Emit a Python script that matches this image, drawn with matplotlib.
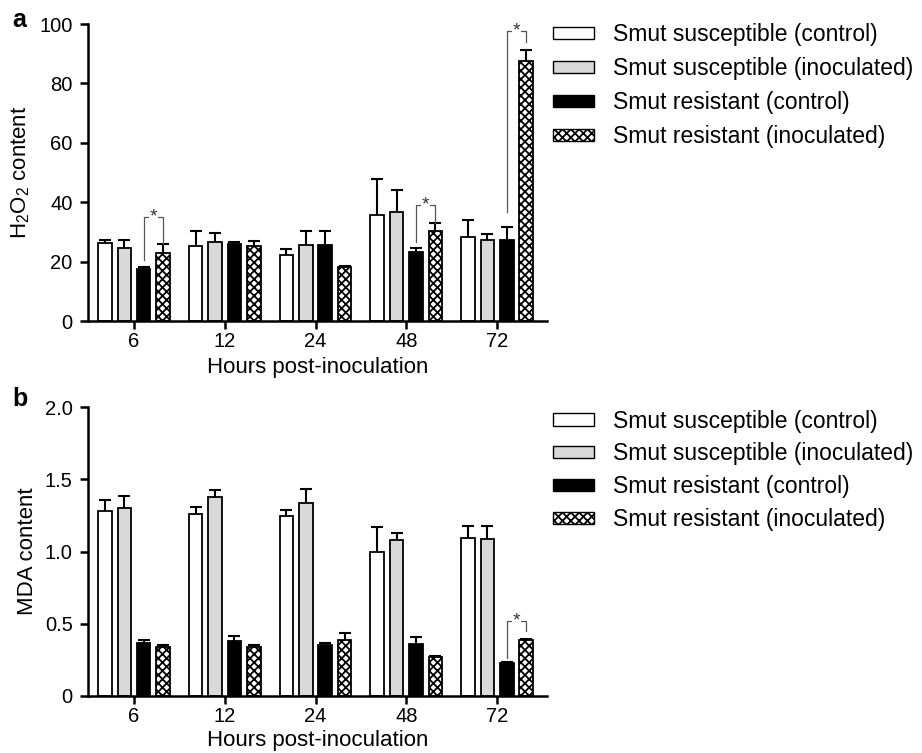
import numpy as np
import matplotlib
matplotlib.use("Agg")
import matplotlib.pyplot as plt
from matplotlib.patches import Patch

plt.rcParams['font.family'] = ['Liberation Sans', 'DejaVu Sans']
plt.rcParams['mathtext.fontset'] = 'custom'
plt.rcParams['mathtext.rm'] = 'Liberation Sans'
plt.rcParams['mathtext.it'] = 'Liberation Sans'
plt.rcParams['mathtext.default'] = 'regular'
plt.rcParams['hatch.linewidth'] = 1.3

hours = ['6', '12', '24', '48', '72']
series = ['Smut susceptible (control)', 'Smut susceptible (inoculated)',
          'Smut resistant (control)', 'Smut resistant (inoculated)']

# Panel a: H2O2 content (mean, upper error)
h2o2_sus_ctrl = [26.4, 25.3, 22.2, 35.7, 28.2]
h2o2_sus_inoc = [24.7, 26.5, 25.5, 36.7, 27.3]
h2o2_res_ctrl = [17.6, 26.0, 25.5, 23.2, 27.3]
h2o2_res_inoc = [23.0, 25.3, 18.2, 30.3, 87.6]
h2o2_err_sus_ctrl = [0.9, 5.0, 1.9, 12.1, 5.8]
h2o2_err_sus_inoc = [2.6, 3.2, 4.7, 7.3, 1.9]
h2o2_err_res_ctrl = [0.5, 0.6, 4.7, 1.3, 4.3]
h2o2_err_res_inoc = [3.0, 1.6, 0.4, 2.8, 3.6]

# Panel b: MDA content (mean, upper error)
mda_sus_ctrl = [1.28, 1.26, 1.245, 1.00, 1.095]
mda_sus_inoc = [1.30, 1.38, 1.337, 1.078, 1.09]
mda_res_ctrl = [0.367, 0.379, 0.353, 0.360, 0.227]
mda_res_inoc = [0.342, 0.339, 0.386, 0.270, 0.386]
mda_err_sus_ctrl = [0.08, 0.05, 0.044, 0.171, 0.083]
mda_err_sus_inoc = [0.088, 0.048, 0.095, 0.049, 0.088]
mda_err_res_ctrl = [0.019, 0.034, 0.014, 0.046, 0.011]
mda_err_res_inoc = [0.009, 0.012, 0.048, 0.007, 0.007]

# significance brackets: (group index, top y, left bottom y, right bottom y)
sig_a = [(0, 35.1, 20.5, 26.0), (3, 39.0, 26.7, 33.1), (4, 97.7, 36.8, 94.0)]
sig_b = [(4, 0.52, 0.26, 0.45)]

facecolors = ['white', '#d9d9d9', 'black', 'white']
hatches = [None, None, None, 'xxxx']

fig = plt.figure(figsize=(9.22, 7.53), dpi=100)
ax_a = fig.add_axes([0.0954, 0.5737, 0.498, 0.3944])
ax_b = fig.add_axes([0.0954, 0.0757, 0.498, 0.3834])

pitch = 0.2138
width = 0.149
offsets = (np.arange(4) - 1.5) * pitch
x = np.arange(len(hours))


def draw(ax, means, errs, ylim, yticks, yticklabels, ylabel, sigs, xlabelpad):
    for i in range(4):
        xs = x + offsets[i]
        ax.bar(xs, means[i], width=width, color=facecolors[i], edgecolor='black',
               linewidth=1.3, hatch=hatches[i], zorder=2)
        eb = ax.errorbar(xs, means[i], yerr=[np.zeros(len(xs)), errs[i]], fmt='none',
                         ecolor='black', elinewidth=1.5, capsize=4.2, capthick=1.5, zorder=3)
        caps = eb[1]
        if len(caps) == 2:
            caps[0].set_visible(False)
    for g, top, lb, rb in sigs:
        xl = g + offsets[2]
        xr = g + offsets[3]
        ax.plot([xl, xl, xr, xr], [lb, top, top, rb], color='#555555', lw=0.9, zorder=4)
        ax.text((xl + xr) / 2, top, '*', ha='center', va='center', fontsize=14,
                color='#333333', zorder=5,
                bbox=dict(facecolor='white', edgecolor='none', pad=0.5))
    ax.set_xlim(-0.507, 4.551)
    ax.set_ylim(*ylim)
    ax.set_xticks(x)
    ax.set_xticklabels(hours, fontsize=14.5)
    ax.set_yticks(yticks)
    ax.set_yticklabels(yticklabels, fontsize=14.5)
    for s in ['top', 'right']:
        ax.spines[s].set_visible(False)
    for s in ['left', 'bottom']:
        ax.spines[s].set_linewidth(1.8)
    ax.tick_params(axis='both', width=1.8, length=6, direction='out')
    ax.tick_params(axis='x', pad=2)
    ax.tick_params(axis='y', pad=5)
    ax.set_xlabel('Hours post-inoculation', fontsize=16, labelpad=xlabelpad)
    ax.set_ylabel(ylabel, fontsize=16, labelpad=5)


draw(ax_a,
     [h2o2_sus_ctrl, h2o2_sus_inoc, h2o2_res_ctrl, h2o2_res_inoc],
     [h2o2_err_sus_ctrl, h2o2_err_sus_inoc, h2o2_err_res_ctrl, h2o2_err_res_inoc],
     (0, 100), [0, 20, 40, 60, 80, 100], ['0', '20', '40', '60', '80', '100'],
     r'H$_2$O$_2$ content', sig_a, 4)
draw(ax_b,
     [mda_sus_ctrl, mda_sus_inoc, mda_res_ctrl, mda_res_inoc],
     [mda_err_sus_ctrl, mda_err_sus_inoc, mda_err_res_ctrl, mda_err_res_inoc],
     (0, 2.0), [0, 0.5, 1.0, 1.5, 2.0], ['0', '0.5', '1.0', '1.5', '2.0'],
     'MDA content', sig_b, 3)

handles = [Patch(facecolor=facecolors[i], edgecolor='black', hatch=hatches[i], linewidth=1.0,
                 label=series[i]) for i in range(4)]
for ytop, lsp in ((0.969, 0.48), (0.456, 0.43)):
    fig.legend(handles=handles, loc='upper left', bbox_to_anchor=(0.5998, ytop),
               frameon=False, fontsize=16.5, handlelength=1.8, handleheight=0.45,
               handletextpad=0.8, labelspacing=lsp, borderpad=0, borderaxespad=0)

fig.text(0.013, 0.973, 'a', fontsize=18, fontweight='bold', va='center')
fig.text(0.013, 0.470, 'b', fontsize=18, fontweight='bold', va='center')

fig.savefig('out.png', dpi=100)
